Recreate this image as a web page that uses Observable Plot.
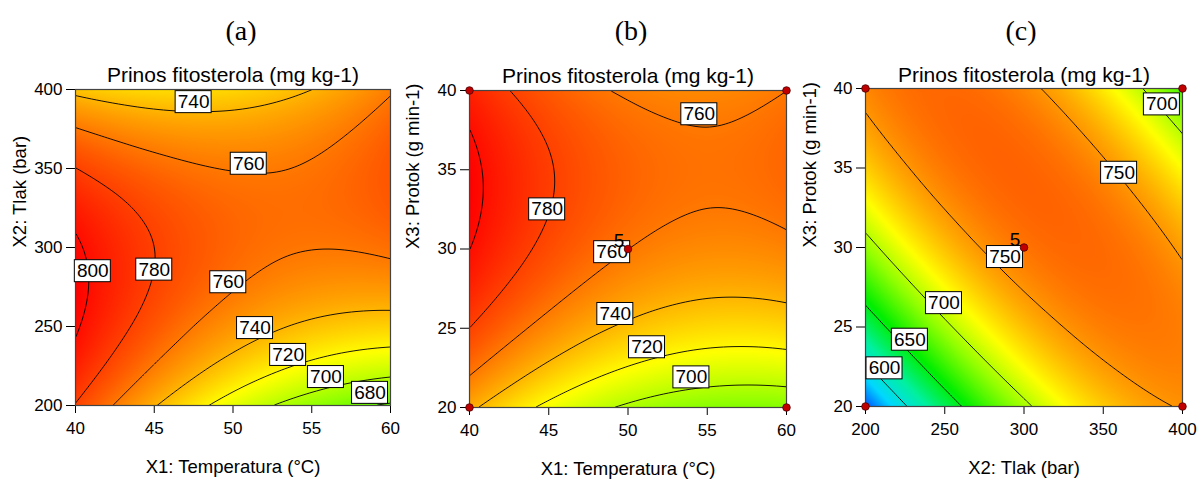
<!DOCTYPE html>
<html>
<head>
<meta charset="utf-8">
<script src="https://cdn.jsdelivr.net/npm/d3@7"></script>
<script src="https://cdn.jsdelivr.net/npm/@observablehq/plot@0.6"></script>
<style>
  html, body { margin: 0; padding: 0; background: #fff; }
  #wrap { position: relative; width: 1198px; height: 480px; overflow: hidden; background: #fff; }
  #wrap > svg { position: absolute; top: 0; }
</style>
</head>
<body>
<div id="wrap"></div>
<script>
// ---------------- data ----------------
const tempLevels  = [40, 42.5, 45, 47.5, 50, 52.5, 55, 57.5, 60];
const pressLevels = [200, 225, 250, 275, 300, 325, 350, 375, 400];
const flowLevels  = [20, 22.5, 25, 27.5, 30, 32.5, 35, 37.5, 40];

// (a) rows: pressure 200..400, columns: temperature 40..60
const valuesA = [
  [779.0, 759.0, 741.2, 725.5, 711.8, 700.2, 690.8, 683.4, 678.1],
  [793.2, 775.2, 759.3, 745.5, 733.8, 724.2, 716.6, 711.1, 707.7],
  [801.9, 785.8, 771.9, 759.9, 750.2, 742.4, 736.8, 733.3, 731.8],
  [804.9, 790.8, 778.7, 768.8, 760.9, 755.1, 751.4, 749.8, 750.2],
  [802.4, 790.1, 780.0, 772.0, 766.0, 762.1, 760.4, 760.7, 763.1],
  [794.1, 783.9, 775.6, 769.5, 765.5, 763.6, 763.7, 765.9, 770.2],
  [780.3, 771.9, 765.7, 761.5, 759.4, 759.3, 761.4, 765.6, 771.8],
  [760.8, 754.4, 750.0, 747.8, 747.6, 749.5, 753.5, 759.6, 767.7],
  [735.8, 731.2, 728.8, 728.5, 730.2, 734.0, 739.9, 748.0, 758.1]
];
// (b) rows: flow 20..40, columns: temperature 40..60
const valuesB = [
  [743.5, 728.6, 715.9, 705.5, 697.4, 691.5, 687.9, 686.5, 687.4],
  [763.7, 749.2, 736.9, 726.9, 719.2, 713.7, 710.4, 709.4, 710.6],
  [779.9, 765.8, 753.9, 744.2, 736.9, 731.7, 728.8, 728.2, 729.8],
  [792.1, 778.3, 766.8, 757.5, 750.5, 745.8, 743.2, 743.0, 745.0],
  [800.2, 786.8, 775.6, 766.7, 760.1, 755.7, 753.6, 753.7, 756.1],
  [804.2, 791.2, 780.4, 771.9, 765.7, 761.7, 759.9, 760.4, 763.1],
  [804.2, 791.6, 781.2, 773.0, 767.2, 763.5, 762.1, 763.0, 766.1],
  [800.2, 787.9, 777.9, 770.1, 764.6, 761.4, 760.3, 761.6, 765.1],
  [792.1, 780.2, 770.5, 763.1, 758.0, 755.1, 754.5, 756.1, 759.9]
];
// (c) rows: flow 20..40, columns: pressure 200..400
const valuesC = [
  [555.0, 597.9, 635.5, 667.9, 695.0, 716.9, 733.5, 744.9, 751.0],
  [595.8, 634.3, 667.5, 695.5, 718.3, 735.8, 748.0, 755.0, 756.8],
  [632.0, 666.1, 695.0, 718.6, 737.0, 750.1, 758.0, 760.6, 758.0],
  [663.8, 693.5, 718.0, 737.3, 751.3, 760.0, 763.5, 761.8, 754.8],
  [691.0, 716.4, 736.5, 751.4, 761.0, 765.4, 764.5, 758.4, 747.0],
  [713.8, 734.8, 750.5, 761.0, 766.3, 766.3, 761.0, 750.5, 734.8],
  [732.0, 748.6, 760.0, 766.1, 767.0, 762.6, 753.0, 738.1, 718.0],
  [745.8, 758.0, 765.0, 766.8, 763.3, 754.5, 740.5, 721.3, 696.8],
  [755.0, 762.9, 765.5, 762.9, 755.0, 741.9, 723.5, 699.9, 671.0]
];

const thresholdsA = [680, 700, 720, 740, 760, 780, 800];
const thresholdsB = [700, 720, 740, 760, 780, 800];
const thresholdsC = [600, 650, 700, 750];

// contour label anchors (data units)
const labelsA = [
  {x: 47.5, y: 392, v: 740}, {x: 51.0, y: 353, v: 760}, {x: 41.1, y: 285, v: 800},
  {x: 45.0, y: 286, v: 780}, {x: 49.7, y: 278, v: 760}, {x: 51.4, y: 249, v: 740},
  {x: 53.5, y: 232, v: 720}, {x: 55.9, y: 218, v: 700}, {x: 58.7, y: 208, v: 680}
];
const labelsB = [
  {x: 54.5, y: 38.5, v: 760}, {x: 44.9, y: 32.5, v: 780}, {x: 49.0, y: 29.8, v: 760},
  {x: 49.2, y: 25.9, v: 740}, {x: 51.2, y: 23.8, v: 720}, {x: 54.0, y: 21.9, v: 700}
];
const labelsC = [
  {x: 387, y: 39.0, v: 700}, {x: 360, y: 34.7, v: 750}, {x: 288, y: 29.4, v: 750},
  {x: 249.5, y: 26.5, v: 700}, {x: 228, y: 24.2, v: 650}, {x: 212, y: 22.4, v: 600}
];

// design points
const pointsB = [{x: 40, y: 20}, {x: 60, y: 20}, {x: 40, y: 40}, {x: 60, y: 40}, {x: 50, y: 30}];
const pointsC = [{x: 200, y: 20}, {x: 400, y: 20}, {x: 200, y: 40}, {x: 400, y: 40}, {x: 300, y: 30}];
const centerB = [{x: 50, y: 30, n: "5"}];
const centerC = [{x: 300, y: 30, n: "5"}];

const ticksTemp = [40, 45, 50, 55, 60];
const ticksPress = [200, 250, 300, 350, 400];
const ticksFlow = [20, 25, 30, 35, 40];

const chartTitle = "Prinos fitosterola (mg kg-1)";
const labelTemp = "X1: Temperatura (°C)";
const labelPress = "X2: Tlak (bar)";
const labelFlow = "X3: Protok (g min-1)";

// colour ramp (response value -> colour)
const colorStops = [555, 585, 620, 655, 690, 718, 745, 770, 805];
const colorRange = ["#0050ff", "#00d8ff", "#00f0a0", "#00ee00", "#90ff00", "#ffff00", "#ffa500", "#ff5a00", "#ff0000"];

// ---------------- drawing ----------------
function toGrid(xs, ys, values) {
  const out = [];
  ys.forEach((yv, i) => xs.forEach((xv, j) => out.push({x: xv, y: yv, v: values[i][j]})));
  return out;
}

// smooth (Catmull-Rom) spatial interpolation of the sampled grid, used by raster & contour
function smoothGrid(index, w, h, X, Y, V) {
  const ux = Array.from(new Set(Array.from(index, (i) => X[i]))).sort((a, b) => a - b);
  const uy = Array.from(new Set(Array.from(index, (i) => Y[i]))).sort((a, b) => a - b);
  const nx = ux.length, ny = uy.length;
  const G = new Float64Array(nx * ny);
  for (const i of index) G[uy.indexOf(Y[i]) * nx + ux.indexOf(X[i])] = V[i];
  const col = (r, c) => {
    const o = r * nx;
    if (c < 0) return 3 * G[o] - 3 * G[o + 1] + G[o + 2];
    if (c >= nx) return 3 * G[o + nx - 1] - 3 * G[o + nx - 2] + G[o + nx - 3];
    return G[o + c];
  };
  const get = (r, c) => {
    if (r < 0) return 3 * col(0, c) - 3 * col(1, c) + col(2, c);
    if (r >= ny) return 3 * col(ny - 1, c) - 3 * col(ny - 2, c) + col(ny - 3, c);
    return col(r, c);
  };
  const cr = (p0, p1, p2, p3, t) =>
    0.5 * (2 * p1 + (p2 - p0) * t + (2 * p0 - 5 * p1 + 4 * p2 - p3) * t * t + (3 * p1 - p0 - 3 * p2 + p3) * t * t * t);
  const sx = (ux[nx - 1] - ux[0]) / (nx - 1), sy = (uy[ny - 1] - uy[0]) / (ny - 1);
  const F = new Float64Array(w * h);
  const tmp = [0, 0, 0, 0];
  for (let j = 0; j < h; ++j) {
    let v = (j + 0.5 - uy[0]) / sy;
    v = Math.max(0, Math.min(ny - 1, v));
    const r = Math.min(ny - 2, Math.floor(v)), ty = v - r;
    for (let i = 0; i < w; ++i) {
      let u = (i + 0.5 - ux[0]) / sx;
      u = Math.max(0, Math.min(nx - 1, u));
      const c = Math.min(nx - 2, Math.floor(u)), tx = u - c;
      for (let k = -1; k <= 2; ++k)
        tmp[k + 1] = cr(get(r + k, c - 1), get(r + k, c), get(r + k, c + 1), get(r + k, c + 2), tx);
      F[j * w + i] = cr(tmp[0], tmp[1], tmp[2], tmp[3], ty);
    }
  }
  return F;
}

const SANS = "'Liberation Sans', Arial, Helvetica, sans-serif";
const SERIF = "'Liberation Serif', 'Times New Roman', serif";

function panel(o) {
  const grid = toGrid(o.xs, o.ys, o.values);
  const marks = [
    Plot.raster(grid, {x: "x", y: "y", fill: "v", interpolate: smoothGrid, pixelSize: 1}),
    Plot.contour(grid, {x: "x", y: "y", value: "v", interpolate: smoothGrid, pixelSize: 1,
      thresholds: o.thresholds, stroke: "black", strokeWidth: 0.9, fill: "none"}),
    Plot.frame({stroke: "#444", strokeWidth: 1.2}),
    Plot.rect(o.labels, {x1: "x", x2: "x", y1: "y", y2: "y",
      insetLeft: -18, insetRight: -18, insetTop: -11, insetBottom: -11,
      fill: "white", stroke: "black", strokeWidth: 1}),
    Plot.text(o.labels, {x: "x", y: "y", text: (d) => String(d.v), fontSize: 19, fill: "black", fontFamily: SANS})
  ];
  if (o.points) {
    marks.push(Plot.text(o.center, {x: "x", y: "y", text: "n", dx: -9, dy: -8, fontSize: 19, fill: "black", fontFamily: SANS}));
    marks.push(Plot.dot(o.points, {x: "x", y: "y", r: 3.8, fill: "#c00000", stroke: "#4a0000", strokeWidth: 0.8}));
  }
  marks.push(
    Plot.text([o.letter], {frameAnchor: "top", lineAnchor: "bottom", dy: o.letterDy, dx: o.letterDx,
      fontFamily: SERIF, fontSize: 28, fill: "black"}),
    Plot.text([chartTitle], {frameAnchor: "top", lineAnchor: "bottom", dy: o.titleDy,
      fontFamily: SANS, fontSize: 21, fill: "black"}),
    Plot.text([o.xLabel], {frameAnchor: "bottom", lineAnchor: "bottom", dy: o.xLabelDy,
      fontFamily: SANS, fontSize: 18.5, fill: "black"}),
    Plot.text([o.yLabel], {frameAnchor: "left", lineAnchor: "bottom", rotate: -90, dx: o.yLabelDx,
      fontFamily: SANS, fontSize: 18.5, fill: "black"})
  );
  const svg = Plot.plot({
    width: o.width, height: 480,
    marginLeft: o.ml, marginRight: o.mr, marginTop: o.mt, marginBottom: 480 - o.fb,
    style: {fontFamily: SANS, fontSize: "17px", background: "transparent", color: "black", overflow: "visible"},
    x: {domain: [o.xs[0], o.xs[o.xs.length - 1]], ticks: o.xTicks, tickSize: 8, tickPadding: 8, label: null},
    y: {domain: [o.ys[0], o.ys[o.ys.length - 1]], ticks: o.yTicks, tickSize: 9, tickPadding: 4, label: null},
    color: {type: "linear", domain: colorStops, range: colorRange, clamp: true},
    marks
  });
  svg.style.left = o.left + "px";
  document.getElementById("wrap").appendChild(svg);
}

panel({
  left: 0, width: 400, ml: 75, mr: 10, mt: 89, fb: 405,
  xs: tempLevels, ys: pressLevels, values: valuesA, thresholds: thresholdsA, labels: labelsA,
  xTicks: ticksTemp, yTicks: ticksPress, xLabel: labelTemp, yLabel: labelPress,
  letter: "(a)", letterDx: 8, letterDy: -50, titleDy: -8, xLabelDy: 67, yLabelDx: -49.5
});
panel({
  left: 395, width: 400, ml: 74, mr: 9, mt: 90, fb: 407,
  xs: tempLevels, ys: flowLevels, values: valuesB, thresholds: thresholdsB, labels: labelsB,
  points: pointsB, center: centerB,
  xTicks: ticksTemp, yTicks: ticksFlow, xLabel: labelTemp, yLabel: labelFlow,
  letter: "(b)", letterDx: 3, letterDy: -51, titleDy: -8, xLabelDy: 67, yLabelDx: -50.5
});
panel({
  left: 790, width: 408, ml: 75, mr: 16, mt: 88, fb: 406,
  xs: pressLevels, ys: flowLevels, values: valuesC, thresholds: thresholdsC, labels: labelsC,
  points: pointsC, center: centerC,
  xTicks: ticksPress, yTicks: ticksFlow, xLabel: labelPress, yLabel: labelFlow,
  letter: "(c)", letterDx: -3, letterDy: -49, titleDy: -7, xLabelDy: 67, yLabelDx: -50
});
</script>
</body>
</html>
